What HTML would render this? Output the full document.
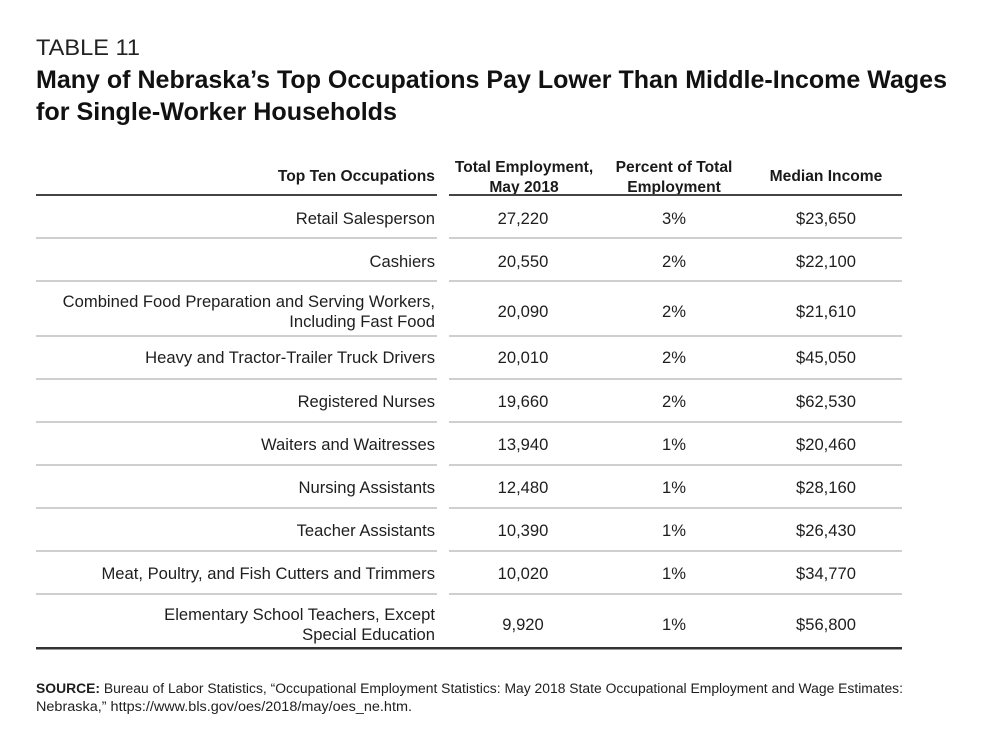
<!DOCTYPE html>
<html>
<head>
<meta charset="utf-8">
<style>
html,body{margin:0;padding:0;background:#fff;}
svg{display:block;}
text{font-family:"Liberation Sans",sans-serif;}
</style>
</head>
<body>
<svg width="1000" height="735" viewBox="0 0 1000 735" xmlns="http://www.w3.org/2000/svg">
<rect width="1000" height="735" fill="#fff"/>
<!-- Title -->
<text x="36" y="55" font-size="22" fill="#222" textLength="104" lengthAdjust="spacingAndGlyphs">TABLE 11</text>
<text x="36" y="88" font-size="25" font-weight="bold" fill="#111" textLength="911" lengthAdjust="spacingAndGlyphs">Many of Nebraska’s Top Occupations Pay Lower Than Middle-Income Wages</text>
<text x="36" y="120" font-size="25" font-weight="bold" fill="#111" textLength="361" lengthAdjust="spacingAndGlyphs">for Single-Worker Households</text>

<!-- Header -->
<g font-size="15.6" font-weight="bold" fill="#1a1a1a">
<text x="435" y="181" text-anchor="end">Top Ten Occupations</text>
<text x="524" y="172" text-anchor="middle">Total Employment,</text>
<text x="524" y="192" text-anchor="middle">May 2018</text>
<text x="674" y="172" text-anchor="middle">Percent of Total</text>
<text x="674" y="192" text-anchor="middle">Employment</text>
<text x="826" y="181" text-anchor="middle">Median Income</text>
</g>

<!-- Lines -->
<g>
<rect x="36" y="194" width="401" height="2" fill="#444"/>
<rect x="449" y="194" width="453" height="2" fill="#444"/>
<g fill="#cfcfcf">
<rect x="36" y="237" width="401" height="2"/><rect x="449" y="237" width="453" height="2"/>
<rect x="36" y="280" width="401" height="2"/><rect x="449" y="280" width="453" height="2"/>
<rect x="36" y="335" width="401" height="2"/><rect x="449" y="335" width="453" height="2"/>
<rect x="36" y="378" width="401" height="2"/><rect x="449" y="378" width="453" height="2"/>
<rect x="36" y="421" width="401" height="2"/><rect x="449" y="421" width="453" height="2"/>
<rect x="36" y="464" width="401" height="2"/><rect x="449" y="464" width="453" height="2"/>
<rect x="36" y="507" width="401" height="2"/><rect x="449" y="507" width="453" height="2"/>
<rect x="36" y="550" width="401" height="2"/><rect x="449" y="550" width="453" height="2"/>
<rect x="36" y="593" width="401" height="2"/><rect x="449" y="593" width="453" height="2"/>
</g>
<rect x="36" y="647" width="866" height="2.5" fill="#333"/>
</g>

<!-- Body -->
<g font-size="16.6" fill="#1e1e1e">
<g text-anchor="end">
<text x="435" y="224">Retail Salesperson</text>
<text x="435" y="267">Cashiers</text>
<text x="435" y="307">Combined Food Preparation and Serving Workers,</text>
<text x="435" y="327">Including Fast Food</text>
<text x="435" y="363">Heavy and Tractor-Trailer Truck Drivers</text>
<text x="435" y="407">Registered Nurses</text>
<text x="435" y="450">Waiters and Waitresses</text>
<text x="435" y="493">Nursing Assistants</text>
<text x="435" y="536">Teacher Assistants</text>
<text x="435" y="579">Meat, Poultry, and Fish Cutters and Trimmers</text>
<text x="435" y="620">Elementary School Teachers, Except</text>
<text x="435" y="640">Special Education</text>
</g>
<g text-anchor="middle">
<text x="523" y="224">27,220</text><text x="674" y="224">3%</text><text x="826" y="224">$23,650</text>
<text x="523" y="267">20,550</text><text x="674" y="267">2%</text><text x="826" y="267">$22,100</text>
<text x="523" y="317">20,090</text><text x="674" y="317">2%</text><text x="826" y="317">$21,610</text>
<text x="523" y="363">20,010</text><text x="674" y="363">2%</text><text x="826" y="363">$45,050</text>
<text x="523" y="407">19,660</text><text x="674" y="407">2%</text><text x="826" y="407">$62,530</text>
<text x="523" y="450">13,940</text><text x="674" y="450">1%</text><text x="826" y="450">$20,460</text>
<text x="523" y="493">12,480</text><text x="674" y="493">1%</text><text x="826" y="493">$28,160</text>
<text x="523" y="536">10,390</text><text x="674" y="536">1%</text><text x="826" y="536">$26,430</text>
<text x="523" y="579">10,020</text><text x="674" y="579">1%</text><text x="826" y="579">$34,770</text>
<text x="523" y="630">9,920</text><text x="674" y="630">1%</text><text x="826" y="630">$56,800</text>
</g>
</g>

<!-- Source -->
<text x="36" y="693" font-size="13.5" fill="#1e1e1e" textLength="867" lengthAdjust="spacingAndGlyphs"><tspan font-weight="bold">SOURCE:</tspan> Bureau of Labor Statistics, “Occupational Employment Statistics: May 2018 State Occupational Employment and Wage Estimates:</text>
<text x="36" y="711" font-size="13.5" fill="#1e1e1e" textLength="376" lengthAdjust="spacingAndGlyphs">Nebraska,” https://www.bls.gov/oes/2018/may/oes_ne.htm.</text>
</svg>
</body>
</html>
